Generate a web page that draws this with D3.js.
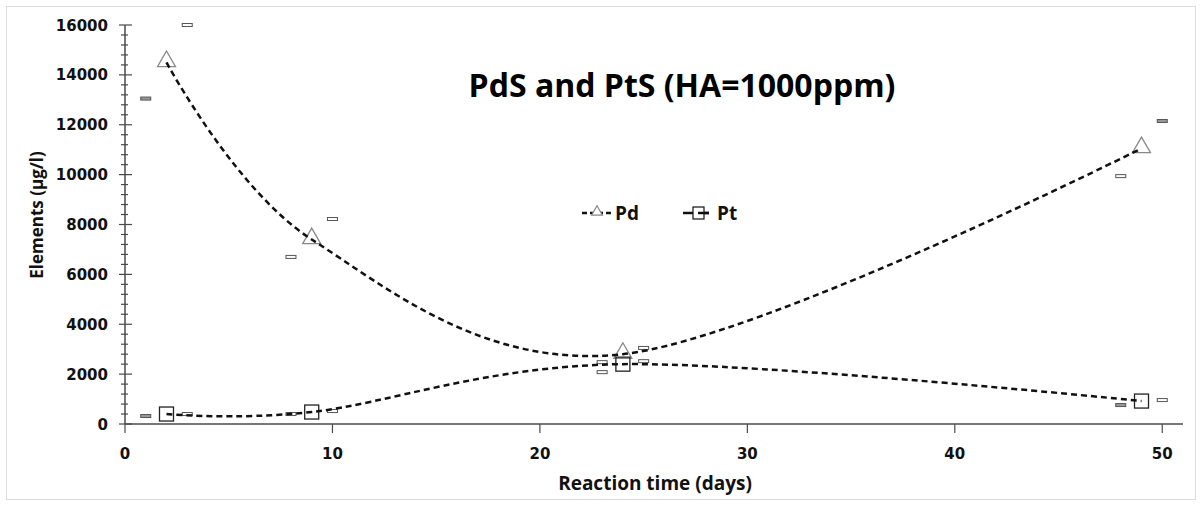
<!DOCTYPE html>
<html><head><meta charset="utf-8">
<script src="https://cdn.jsdelivr.net/npm/d3@7"></script>
<style>body{margin:0;background:#fff}svg{display:block;font-family:"Open Sans",sans-serif}</style>
</head><body>
<svg id="c" width="1202" height="506"></svg>
<script>
const days = [2, 9, 24, 49];
const pdValues = [14500, 7400, 2800, 11050];
const ptValues = [400, 480, 2400, 920];
// small side markers (low at day-1, high at day+1)
const pdLowDays = [1, 8, 23, 48];
const pdLow = [13050, 6700, 2480, 9940];
const pdHighDays = [3, 10, 25, 50];
const pdHigh = [16000, 8220, 3050, 12150];
const ptLowDays = [1, 8, 23, 48];
const ptLow = [320, 400, 2080, 760];
const ptHighDays = [3, 10, 25, 50];
const ptHigh = [400, 520, 2520, 960];
const xTicks = [0, 10, 20, 30, 40, 50];
const yTicks = [0, 2000, 4000, 6000, 8000, 10000, 12000, 14000, 16000];
const title = "PdS and PtS (HA=1000ppm)";
const xTitle = "Reaction time (days)";
const yTitle = "Elements (µg/l)";

const svg = d3.select("#c");
svg.append("rect").attr("x",6.5).attr("y",6.5).attr("width",1189).attr("height",493)
  .attr("fill","none").attr("stroke","#dcdcdc");

const x = d3.scaleLinear().domain([0,51]).range([125,1183]);
const y = d3.scaleLinear().domain([0,16000]).range([424,25]);
const axisColor = "#4a4a4a";
const tickFont = "'DejaVu Sans',sans-serif";

// y axis
const gy = svg.append("g").attr("transform","translate(125,0)");
gy.append("line").attr("y1",y(0)).attr("y2",y(16000)).attr("stroke",axisColor).attr("stroke-width",1.5);
d3.range(0,16001,400).forEach(v=>{
  const major = v % 2000 === 0;
  gy.append("line").attr("x1",major?-6:-4).attr("x2",major?7:3).attr("y1",y(v)).attr("y2",y(v))
    .attr("stroke",axisColor).attr("stroke-width",1.2);
});
gy.selectAll("text").data(yTicks).join("text")
  .attr("x",-17).attr("y",d=>y(d)).attr("dy","0.37em").attr("text-anchor","end")
  .style("font-family",tickFont).attr("font-size",15).attr("font-weight","bold").attr("fill","#111").text(d=>d);

// x axis
const gx = svg.append("g");
gx.append("line").attr("x1",125).attr("x2",1183).attr("y1",424).attr("y2",424).attr("stroke",axisColor).attr("stroke-width",1.5);
xTicks.forEach(v=>{
  gx.append("line").attr("x1",x(v)).attr("x2",x(v)).attr("y1",424).attr("y2",433).attr("stroke",axisColor).attr("stroke-width",1.2);
});
gx.selectAll("text").data(xTicks).join("text")
  .attr("x",d=>x(d)).attr("y",459).attr("text-anchor","middle")
  .style("font-family",tickFont).attr("font-size",15).attr("font-weight","bold").attr("fill","#111").text(d=>d);

svg.append("text").attr("x",655).attr("y",490).attr("text-anchor","middle")
  .attr("font-size",19).attr("font-weight","bold").attr("fill","#111").text(xTitle);
svg.append("text").attr("transform","translate(43,215) rotate(-90)").attr("text-anchor","middle")
  .attr("font-size",17).attr("font-weight","bold").attr("fill","#111").text(yTitle);
svg.append("text").attr("x",682).attr("y",97).attr("text-anchor","middle")
  .attr("font-size",32).attr("font-weight","bold").attr("fill","#000").text(title);

// side markers
const grayFilled = new Set(["pdLow0","pdHigh3","ptLow0","ptLow3"]);
function sideMarks(key, ds, vs){
  svg.append("g").selectAll("rect").data(ds.map((d,i)=>[d,vs[i],i])).join("rect")
    .attr("x",d=>x(d[0])-5).attr("y",d=>y(d[1])-1.5).attr("width",10).attr("height",3)
    .attr("fill",d=>grayFilled.has(key+d[2])?"#999":"#fff").attr("stroke","#555").attr("stroke-width",1);
}
sideMarks("pdLow",pdLowDays,pdLow);
sideMarks("pdHigh",pdHighDays,pdHigh);
sideMarks("ptLow",ptLowDays,ptLow);
sideMarks("ptHigh",ptHighDays,ptHigh);

// markers
const tri = d3.symbol().type(d3.symbolTriangle).size(140);
svg.append("g").selectAll("path").data(days.map((d,i)=>[d,pdValues[i]])).join("path")
  .attr("d",tri).attr("transform",d=>`translate(${x(d[0])},${y(d[1])-1})`)
  .attr("fill","none").attr("stroke","#888").attr("stroke-width",1.3);
svg.append("g").selectAll("rect").data(days.map((d,i)=>[d,ptValues[i]])).join("rect")
  .attr("x",d=>x(d[0])-7).attr("y",d=>y(d[1])-7).attr("width",14).attr("height",14)
  .attr("fill","none").attr("stroke","#222").attr("stroke-width",1.3);

// curves
const line = d3.line().x(d=>x(d[0])).y(d=>y(d[1])).curve(d3.curveCatmullRom.alpha(0));
[pdValues, ptValues].forEach(vals=>{
  svg.append("path").datum(days.map((d,i)=>[d,vals[i]])).attr("d",line)
    .attr("fill","none").attr("stroke","#111").attr("stroke-width",2.5).attr("stroke-dasharray","6,4");
});

// legend
const lg = svg.append("g");
lg.append("line").attr("x1",582).attr("x2",612).attr("y1",213).attr("y2",213).attr("stroke","#111").attr("stroke-width",2.5).attr("stroke-dasharray","5,3");
lg.append("path").attr("d",d3.symbol().type(d3.symbolTriangle).size(50)).attr("transform","translate(597,212)").attr("fill","#fff").attr("stroke","#888").attr("stroke-width",1.2);
lg.append("text").attr("x",615).attr("y",220).attr("font-size",19).attr("font-weight","bold").attr("fill","#111").text("Pd");
lg.append("line").attr("x1",683).attr("x2",709).attr("y1",213).attr("y2",213).attr("stroke","#111").attr("stroke-width",2.5);
lg.append("rect").attr("x",693).attr("y",207).attr("width",11).attr("height",12).attr("fill","#fff").attr("stroke","#111").attr("stroke-width",1.2);
lg.append("line").attr("x1",698).attr("x2",709).attr("y1",213).attr("y2",213).attr("stroke","#111").attr("stroke-width",2.5);
lg.append("text").attr("x",717).attr("y",220).attr("font-size",19).attr("font-weight","bold").attr("fill","#111").text("Pt");
</script>
</body></html>
